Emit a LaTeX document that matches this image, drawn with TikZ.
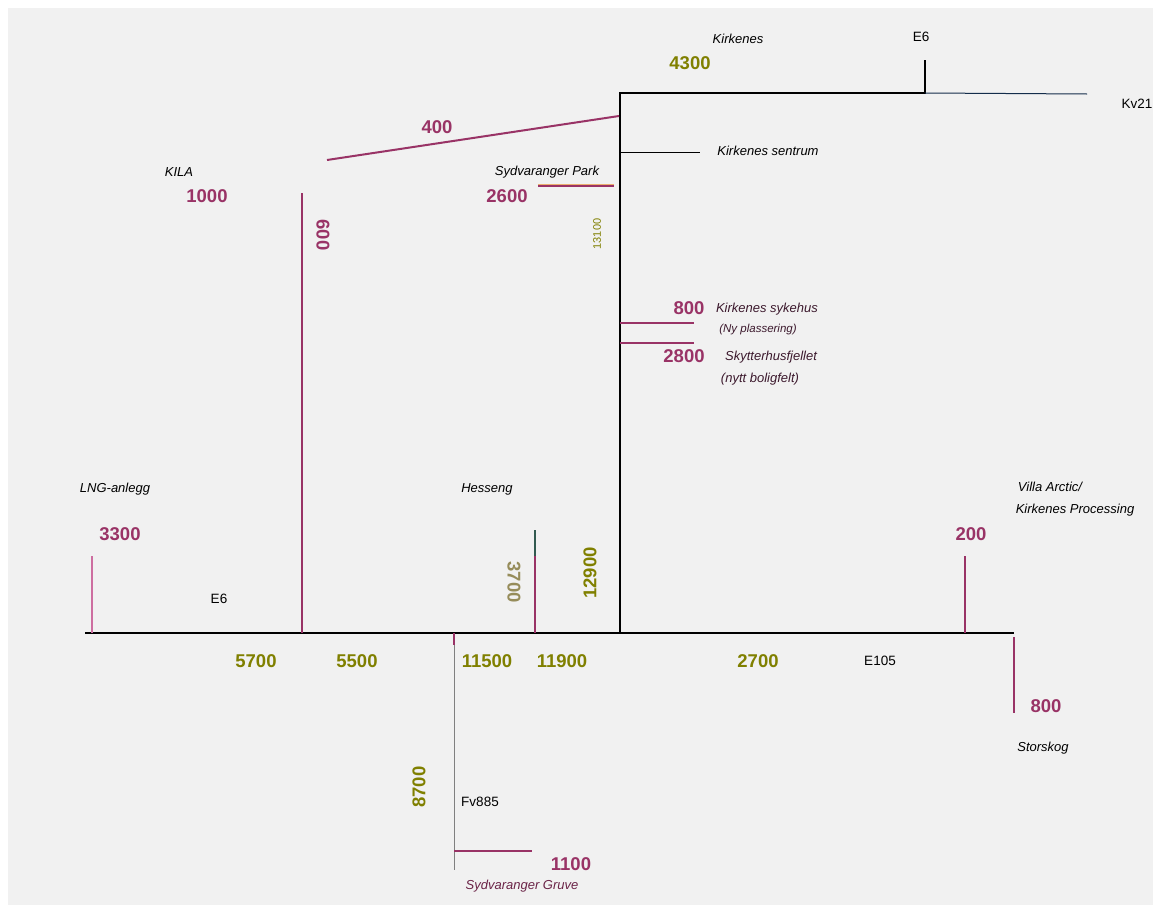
\documentclass[tikz,border=0pt]{standalone}
\usepackage{fontspec}
\setmainfont{Liberation Sans}
\definecolor{bg}{RGB}{241,241,241}
\definecolor{mag}{RGB}{153,51,102}
\definecolor{oli}{RGB}{128,128,0}
\definecolor{khaki}{RGB}{150,140,90}
\definecolor{pinkl}{RGB}{205,110,160}
\definecolor{navy}{RGB}{20,45,75}
\definecolor{teal}{RGB}{50,90,80}
\definecolor{dpur}{RGB}{60,25,45}
\definecolor{orng}{RGB}{235,175,110}
\tikzset{
  num/.style={font=\fontsize{18.5}{18.5}\selectfont\bfseries, inner sep=0pt},
  magnum/.style={num, text=mag},
  olnum/.style={num, text=oli},
  place/.style={font=\fontsize{13}{13}\selectfont\itshape, inner sep=0pt, text=black},
  dplace/.style={place, text=dpur},
  road/.style={font=\fontsize{13.5}{13.5}\selectfont, inner sep=0pt, text=black},
  mainroad/.style={line width=2.4pt, black},
  magline/.style={line width=2pt, mag},
}
\begin{document}
\begin{tikzpicture}[x=1pt,y=-1pt]
\useasboundingbox (0,0) rectangle (1161,913);
\fill[white] (0,0) rectangle (1161,913);
\fill[bg] (8,8) rectangle (1153,905);

% coordinates
\coordinate (W) at (85,633);
\coordinate (E) at (1014,633);
\coordinate (J) at (620,633);
\coordinate (T) at (620,93);
\coordinate (E6j) at (925,93);
\coordinate (E6t) at (925,60);
\coordinate (Kv) at (1087,94);
\coordinate (L4a) at (327,160);
\coordinate (L4b) at (619,116);
\coordinate (S1) at (620,152);
\coordinate (S2) at (700,152);
\coordinate (P1) at (538,186);
\coordinate (P2) at (614,186);
\coordinate (K1) at (302,193);
\coordinate (K2) at (302,633);
\coordinate (H1) at (620,323);
\coordinate (H2) at (694,323);
\coordinate (F1) at (620,343);
\coordinate (F2) at (694,343);
\coordinate (L1) at (92,556);
\coordinate (L2) at (92,633);
\coordinate (Hs1) at (535,530);
\coordinate (Hs2) at (535,556);
\coordinate (Hs3) at (535,633);
\coordinate (V1) at (965,556);
\coordinate (V2) at (965,633);
\coordinate (G1) at (454,633);
\coordinate (G2) at (454,645);
\coordinate (G3) at (454,870);
\coordinate (G4) at (454,851);
\coordinate (G5) at (532,851);
\coordinate (St1) at (1014,637);
\coordinate (St2) at (1014,713);

% lines
\draw[mag, line width=1pt] (619,186) -- (619,556);
\draw[mainroad] (W) -- (E);
\draw[mainroad, line cap=rect] (J) -- (T) -- (E6j);
\draw[line width=2pt, black] (E6j) -- (E6t);
\draw[navy, line width=1pt] (E6j) -- (Kv);
\draw[magline] (L4a) -- (L4b);
\draw[black, line width=0.8pt] (S1) -- (S2);
\draw[orng, line width=0.8pt] ([yshift=1.6pt]P1) -- ([yshift=1.6pt]P2);
\draw[magline] (P1) -- (P2);
\draw[magline] (K1) -- (K2);
\draw[magline, line width=1.6pt] (H1) -- (H2);
\draw[magline, line width=1.6pt] (F1) -- (F2);
\draw[pinkl, line width=1.3pt] (L1) -- (L2);
\draw[teal, line width=1.3pt] (Hs1) -- (Hs2);
\draw[mag, line width=1.3pt] (Hs2) -- (Hs3);
\draw[magline] (V1) -- (V2);
\draw[gray, line width=1pt] (G1) -- (G3);
\draw[mag, line width=1.3pt] (G1) -- (G2);
\draw[magline, line width=1.6pt] (G4) -- (G5);
\draw[mag, line width=1.3pt] (St1) -- (St2);

% labels
\node[place] (kirk) at (738,39) {Kirkenes};
\node[olnum] (n4300) at (690,63) {4300};
\node[road] (e6a) at (921,37) {E6};
\node[road] (kv21) at (1137,104) {Kv21};
\node[magnum] (n400) at (437,127) {400};
\node[place] (sentrum) at (768,151) {Kirkenes sentrum};
\node[place] (park) at (547,172) {Sydvaranger Park};
\node[font=\fontsize{11}{11}\selectfont, text=oli, rotate=90, inner sep=0pt] (n13100) at (597,234) {13100};
\node[magnum] (n2600) at (507,196) {2600};
\node[place] (kila) at (179,172) {KILA};
\node[magnum] (n1000) at (207,196) {1000};
\node[magnum, rotate=-90] (n600) at (323,235) {600};
\node[magnum] (n800a) at (689,308) {800};
\node[dplace] (syk) at (767,309) {Kirkenes sykehus};
\node[dplace, font=\fontsize{11.5}{11.5}\selectfont\itshape] (ny) at (758,330) {(Ny plassering)};
\node[magnum] (n2800) at (684,356) {2800};
\node[dplace] (skyt) at (771,357) {Skytterhusfjellet};
\node[dplace] (nytt) at (760,379) {(nytt boligfelt)};
\node[place] (lng) at (115,489) {LNG-anlegg};
\node[magnum] (n3300) at (120,534) {3300};
\node[road] (e6b) at (219,599) {E6};
\node[place] (hess) at (487,489) {Hesseng};
\node[num, text=khaki, rotate=-90] (n3700) at (514,582) {3700};
\node[olnum, rotate=90] (n12900) at (590,573) {12900};
\node[place] (villa) at (1050,487) {Villa Arctic/};
\node[place] (kproc) at (1075,510) {Kirkenes Processing};
\node[magnum] (n200) at (971,534) {200};
\node[olnum] (n5700) at (256,661) {5700};
\node[olnum] (n5500) at (357,661) {5500};
\node[olnum] (n11500) at (487,661) {11500};
\node[olnum] (n11900) at (562,661) {11900};
\node[olnum] (n2700) at (758,661) {2700};
\node[road] (e105) at (880,661) {E105};
\node[magnum] (n800b) at (1046,706) {800};
\node[place] (stor) at (1043,748) {Storskog};
\node[olnum, rotate=90] (n8700) at (419,787) {8700};
\node[road] (fv) at (480,802) {Fv885};
\node[magnum] (n1100) at (571,864) {1100};
\node[dplace, text=mag!70!black] (gruve) at (522,886) {Sydvaranger Gruve};
\end{tikzpicture}
\end{document}
